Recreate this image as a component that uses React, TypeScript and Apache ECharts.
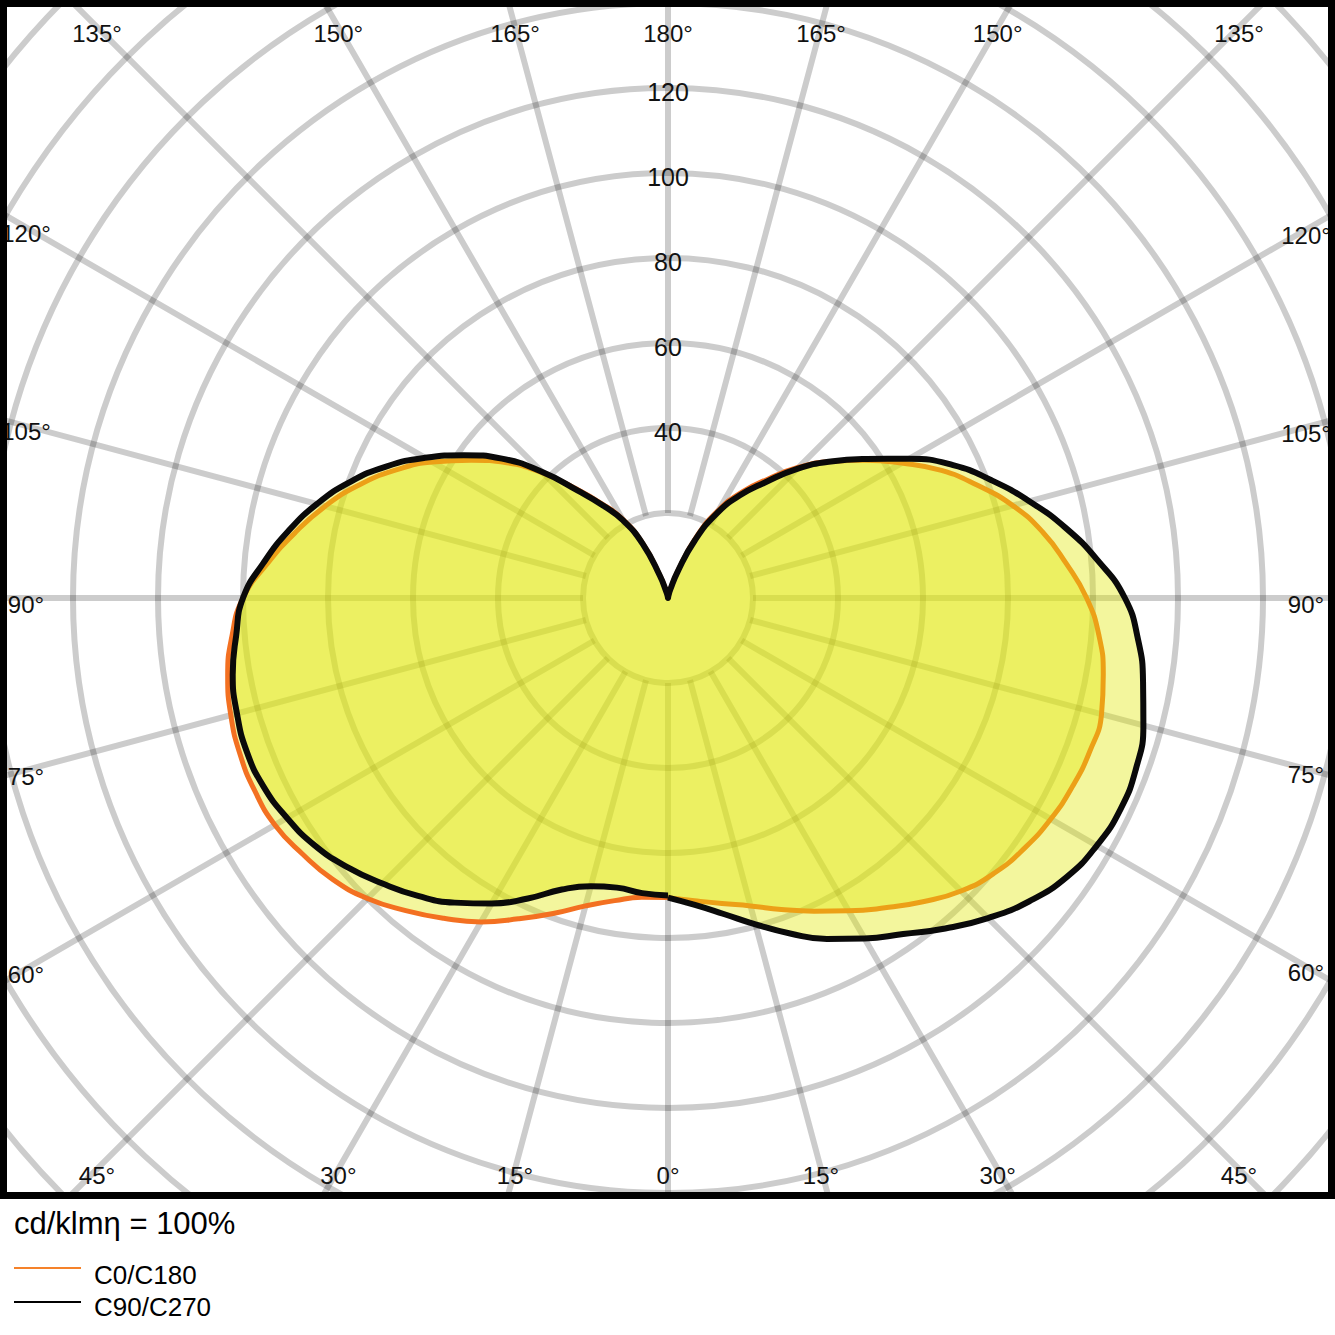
import React, { useEffect, useRef } from "react";
import * as echarts from "echarts";

// Gamma angles (degrees from nadir), every 5°
const GAMMA = [0, 5, 10, 15, 20, 25, 30, 35, 40, 45, 50, 55, 60, 65, 70, 75, 80, 85, 90, 95, 100, 105, 110, 115, 120, 125, 130, 135, 140, 145, 150, 155, 160, 165, 170, 175, 180];

// Luminous intensity (cd/klm) per half-plane
const C0 = [70.5, 71.5, 73, 75, 78, 81.3, 85, 89, 93.3, 97.5, 100.5, 102.5, 104, 105, 105.6, 105.6, 104, 101.8, 98.5, 94, 89.5, 84, 77.5, 71, 63.5, 56.5, 50, 43.5, 36.5, 30.5, 24, 16, 7, 2, 0.5, 0, 0];
const C180 = [70.5, 70.7, 72.3, 75, 79, 83.3, 88, 92, 96, 100, 103, 105, 106.8, 107.3, 107.2, 106.5, 105.2, 103, 100, 94.5, 89, 83.5, 77.5, 71, 64, 56.5, 49.5, 41.5, 33.5, 27, 21.5, 14.5, 6, 2, 0.5, 0, 0];
const C90 = [70.5, 72.5, 75.5, 79.5, 84, 88.5, 92.5, 96.5, 101.5, 106.5, 111, 114.5, 116.5, 117.5, 117.2, 115.8, 113.5, 111, 107.5, 101.5, 95, 88, 81, 74, 65.5, 57, 50, 43, 35.5, 29.5, 23, 15, 6.5, 2, 0.5, 0, 0];
const C270 = [70, 69.7, 69.2, 70.2, 73, 78, 83, 87.5, 91.5, 95, 98.5, 101.5, 103.5, 105, 105.5, 105, 104, 102, 100, 95.5, 90.7, 85.5, 79.7, 73.2, 66, 58.6, 51, 42, 33, 26.5, 21, 14, 5.5, 1.5, 0.5, 0, 0];

const SERIES_NAMES = ["C0/C180", "C90/C270"];
const RING_LABELS = [40, 60, 80, 100, 120];
const SPOKE_ANGLES = [0, 15, 30, 45, 60, 75, 90, 105, 120, 135, 150, 165, 180];
const TITLE = "cd/klmη = 100%";

const FONT = "'Liberation Sans', Arial, Helvetica, sans-serif";
const ORANGE = "#f37021";
const BLACK = "#0a0a0a";
const FILL = "rgb(226,232,10)";
const GRID = "rgba(0,0,0,0.2)";
const CX = 668;
const CY = 598;

function closedCurve(right: number[], left: number[]) {
  const pts: number[][] = GAMMA.map((g, i) => [right[i], g]);
  for (let i = GAMMA.length - 1; i >= 0; i--) pts.push([left[i], 360 - GAMMA[i]]);
  return pts;
}

function angleLabels() {
  const L = 26, R = 1306, T = 27, B = 1169;
  const out: any[] = [];
  SPOKE_ANGLES.forEach((g) => {
    const sides = g === 0 || g === 180 ? [1] : [1, -1];
    sides.forEach((s) => {
      const rad = (g * Math.PI) / 180;
      const dx = s * Math.sin(rad);
      const dy = Math.cos(rad);
      const ts: number[] = [];
      if (dx > 1e-9) ts.push((R - CX) / dx);
      if (dx < -1e-9) ts.push((L - CX) / dx);
      if (dy > 1e-9) ts.push((B - CY) / dy);
      if (dy < -1e-9) ts.push((T - CY) / dy);
      const t = Math.min(...ts);
      out.push({
        type: "text",
        z: 15,
        x: CX + t * dx,
        y: CY + t * dy + 6,
        style: {
          text: `${g}°`,
          fontSize: 24,
          fontFamily: FONT,
          fill: "#111",
          align: "center",
          verticalAlign: "middle",
        },
      });
    });
  });
  return out;
}

export default function App() {
  const ref = useRef<HTMLDivElement>(null);
  useEffect(() => {
    const chart = echarts.init(ref.current!, null, { renderer: "svg" });
    const option: any = {
      animation: false,
      backgroundColor: "#ffffff",
      polar: [
        { center: [CX, CY], radius: [85, 935] },
        { center: [CX, CY], radius: [0, 935] },
      ],
      angleAxis: [
        {
          polarIndex: 0,
          type: "value",
          min: 0,
          max: 360,
          interval: 15,
          startAngle: 90,
          clockwise: true,
          axisLine: { show: false },
          axisTick: { show: false },
          axisLabel: { show: false },
          splitLine: { show: true, lineStyle: { color: GRID, width: 6 } },
        },
        {
          polarIndex: 1,
          type: "value",
          min: 0,
          max: 360,
          startAngle: 270,
          clockwise: false,
          show: false,
        },
      ],
      radiusAxis: [
        {
          polarIndex: 0,
          type: "value",
          min: 20,
          max: 220,
          interval: 20,
          axisLine: { show: false },
          axisTick: { show: false },
          axisLabel: {
            show: true,
            formatter: (v: number) => (RING_LABELS.includes(v) ? String(v) : ""),
            align: "center",
            verticalAlign: "top",
            lineHeight: 8,
            margin: 0,
            fontSize: 25,
            fontFamily: FONT,
            color: "#111",
          },
          splitLine: { show: true, lineStyle: { color: GRID, width: 6 } },
        },
        { polarIndex: 1, type: "value", min: 0, max: 220, show: false },
      ],
      series: [
        {
          name: SERIES_NAMES[0],
          type: "line",
          coordinateSystem: "polar",
          polarIndex: 1,
          data: closedCurve(C0, C180),
          symbol: "none",
          showSymbol: false,
          smooth: 0.5,
          color: ORANGE,
          lineStyle: { color: ORANGE, width: 5 },
          areaStyle: { color: FILL, opacity: 0.4 },
          z: 2,
        },
        {
          name: SERIES_NAMES[1],
          type: "line",
          coordinateSystem: "polar",
          polarIndex: 1,
          data: closedCurve(C90, C270),
          symbol: "none",
          showSymbol: false,
          smooth: 0.5,
          color: BLACK,
          lineStyle: { color: BLACK, width: 6 },
          areaStyle: { color: FILL, opacity: 0.4 },
          z: 3,
        },
      ],
      graphic: [
        ...angleLabels(),
        {
          type: "rect",
          z: 10,
          shape: { x: 0, y: 1196, width: 1335, height: 139 },
          style: { fill: "#ffffff" },
        },
        {
          type: "rect",
          z: 20,
          shape: { x: 3.5, y: 3.5, width: 1328, height: 1192 },
          style: { fill: "none", stroke: "#000", lineWidth: 7 },
        },
        {
          type: "text",
          z: 21,
          x: 14,
          y: 1223,
          style: { text: TITLE, fontSize: 31, fontFamily: FONT, fill: "#000", align: "left", verticalAlign: "middle" },
        },
        {
          type: "line",
          z: 21,
          shape: { x1: 14, y1: 1268, x2: 81, y2: 1268 },
          style: { stroke: "#f5822a", lineWidth: 2 },
        },
        {
          type: "text",
          z: 21,
          x: 94,
          y: 1275,
          style: { text: SERIES_NAMES[0], fontSize: 26, fontFamily: FONT, fill: "#000", align: "left", verticalAlign: "middle" },
        },
        {
          type: "line",
          z: 21,
          shape: { x1: 14, y1: 1302, x2: 81, y2: 1302 },
          style: { stroke: "#000", lineWidth: 2 },
        },
        {
          type: "text",
          z: 21,
          x: 94,
          y: 1307,
          style: { text: SERIES_NAMES[1], fontSize: 26, fontFamily: FONT, fill: "#000", align: "left", verticalAlign: "middle" },
        },
      ],
    };
    chart.setOption(option);
    return () => chart.dispose();
  }, []);
  return (
    <div
      ref={ref}
      style={{ position: "fixed", left: 0, top: 0, width: 1335, height: 1335, background: "#fff" }}
    />
  );
}
